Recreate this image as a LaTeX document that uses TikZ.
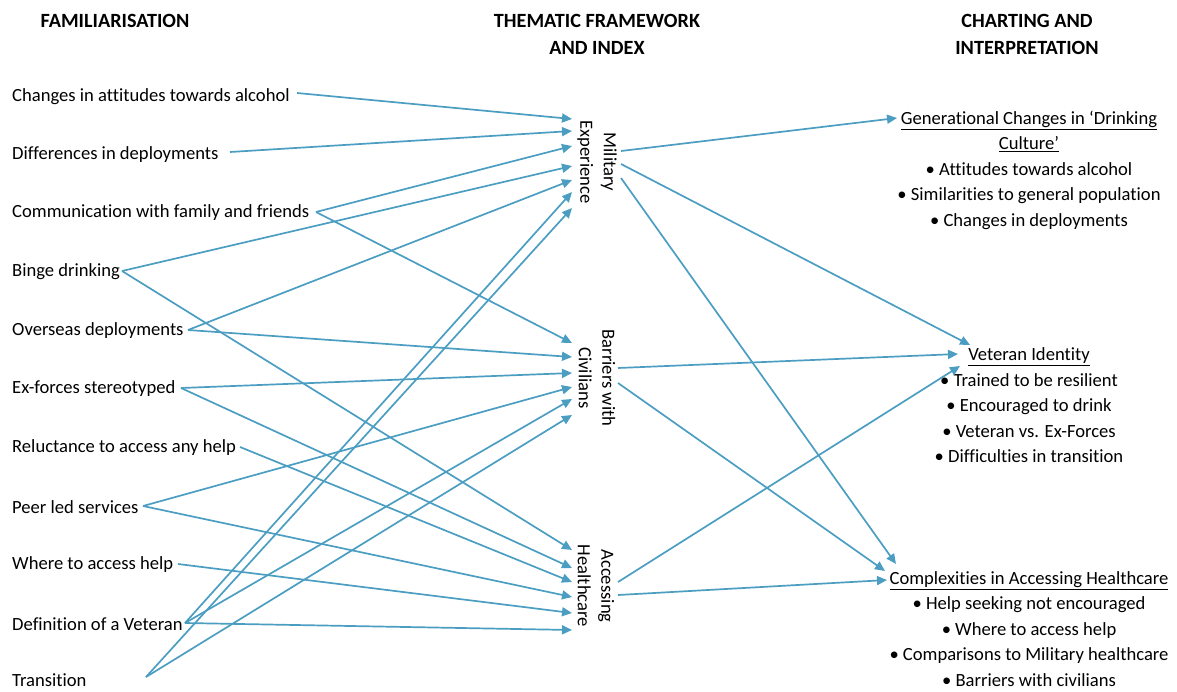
\documentclass[tikz,border=0pt]{standalone}
\usepackage{fontspec}
\setmainfont{Carlito}[Ligatures=NoCommon]
\usetikzlibrary{arrows.meta}
\definecolor{lineblue}{RGB}{75,158,194}
\begin{document}
\begin{tikzpicture}[x=1pt,y=-1pt,
  lab/.style={anchor=west,inner sep=0pt,font=\fontsize{18.6}{22}\selectfont},
  head/.style={align=center,inner sep=0pt,font=\fontsize{20.2}{27}\selectfont\bfseries},
  theme/.style={rotate=-90,align=center,inner sep=0pt,font=\fontsize{18.6}{23.5}\selectfont},
  res/.style={align=center,inner sep=0pt,font=\fontsize{18.6}{25.5}\selectfont},
  conn/.style={draw=lineblue,line width=1.7pt,-{Triangle[length=10pt,width=9pt]}}]
\useasboundingbox (0,0) rectangle (1177,691);

% headers
\node[head] (h1) at (115,20.5) {FAMILIARISATION};
\node[head] (h2) at (597,34) {THEMATIC FRAMEWORK\\AND INDEX};
\node[head] (h3) at (1027,34) {CHARTING AND\\INTERPRETATION};

% left column
\node[lab] (att) at (12,97) {Changes in attitudes towards alcohol};
\node[lab] (dif) at (12,155) {Differences in deployments};
\node[lab] (com) at (12,213) {Communication with family and friends};
\node[lab] (bin) at (12,272) {Binge drinking};
\node[lab] (ove) at (12,331) {Overseas deployments};
\node[lab] (exf) at (12,389) {Ex-forces stereotyped};
\node[lab] (rel) at (12,448) {Reluctance to access any help};
\node[lab] (pee) at (12,507) {Peer led services};
\node[lab] (whe) at (12,565) {Where to access help};
\node[lab] (dfv) at (12,624) {Definition of a Veteran};
\node[lab] (tra) at (12,680.5) {Transition};

% middle column
\node[theme] (mil) at (597,162) {Military\\Experience};
\node[theme] (bar) at (597,378) {Barriers with\\Civilians};
\node[theme] (acc) at (596,586) {Accessing\\Healthcare};

% right column
\node[res] (gen) at (1029,170) {\underline{Generational Changes in ‘Drinking}\\\underline{Culture’}\\\textbullet\ Attitudes towards alcohol\\\textbullet\ Similarities to general population\\\textbullet\ Changes in deployments};
\node[res] (vet) at (1029,405.5) {\underline{Veteran Identity}\\\textbullet\ Trained to be resilient\\\textbullet\ Encouraged to drink\\\textbullet\ Veteran vs. Ex-Forces\\\textbullet\ Difficulties in transition};
\node[res] (cpx) at (1029,629) {\underline{Complexities in Accessing Healthcare}\\\textbullet\ Help seeking not encouraged\\\textbullet\ Where to access help\\\textbullet\ Comparisons to Military healthcare\\\textbullet\ Barriers with civilians};

% connector end points
\coordinate (att-o) at (297,93);
\coordinate (dif-o) at (230,152);
\coordinate (com-o) at (316,212);
\coordinate (bin-o) at (122,271);
\coordinate (ove-o) at (188,330);
\coordinate (exf-o) at (181,388);
\coordinate (rel-o) at (240,447);
\coordinate (pee-o) at (143,506);
\coordinate (whe-o) at (178,564);
\coordinate (dfv-o) at (185,623);
\coordinate (tra-o) at (146,677);

\coordinate (mil-i1) at (572,119);
\coordinate (mil-i2) at (572,131);
\coordinate (mil-i3) at (572,146);
\coordinate (mil-i4) at (572,166);
\coordinate (mil-i5) at (572,180);
\coordinate (mil-i6) at (572,192);
\coordinate (mil-i7) at (572,208);

\coordinate (bar-i1) at (572,343);
\coordinate (bar-i2) at (572,357);
\coordinate (bar-i3) at (572,373);
\coordinate (bar-i4) at (572,387);
\coordinate (bar-i5) at (572,399);
\coordinate (bar-i6) at (572,415);

\coordinate (acc-i1) at (572,550);
\coordinate (acc-i2) at (572,568);
\coordinate (acc-i3) at (572,582);
\coordinate (acc-i4) at (572,597);
\coordinate (acc-i5) at (572,613);
\coordinate (acc-i6) at (572,630);

\coordinate (mil-o1) at (621,151);
\coordinate (mil-o2) at (621,164);
\coordinate (mil-o3) at (621,178);
\coordinate (bar-o1) at (618,368);
\coordinate (bar-o2) at (618,383);
\coordinate (acc-o1) at (618,582);
\coordinate (acc-o2) at (618,595);

\coordinate (gen-i) at (897,118);
\coordinate (vet-i1) at (970,345);
\coordinate (vet-i2) at (958,354);
\coordinate (vet-i3) at (960,366);
\coordinate (cpx-i1) at (896,564);
\coordinate (cpx-i2) at (885,571);
\coordinate (cpx-i3) at (887,580);

% connectors to Military Experience
\draw[conn] (att-o) -- (mil-i1);
\draw[conn] (dif-o) -- (mil-i2);
\draw[conn] (com-o) -- (mil-i3);
\draw[conn] (bin-o) -- (mil-i4);
\draw[conn] (ove-o) -- (mil-i5);
\draw[conn] (dfv-o) -- (mil-i6);
\draw[conn] (tra-o) -- (mil-i7);

% connectors to Barriers with Civilians
\draw[conn] (com-o) -- (bar-i1);
\draw[conn] (ove-o) -- (bar-i2);
\draw[conn] (exf-o) -- (bar-i3);
\draw[conn] (pee-o) -- (bar-i4);
\draw[conn] (dfv-o) -- (bar-i5);
\draw[conn] (tra-o) -- (bar-i6);

% connectors to Accessing Healthcare
\draw[conn] (bin-o) -- (acc-i1);
\draw[conn] (exf-o) -- (acc-i2);
\draw[conn] (rel-o) -- (acc-i3);
\draw[conn] (pee-o) -- (acc-i4);
\draw[conn] (whe-o) -- (acc-i5);
\draw[conn] (dfv-o) -- (acc-i6);

% connectors to the right column
\draw[conn] (mil-o1) -- (gen-i);
\draw[conn] (mil-o2) -- (vet-i1);
\draw[conn] (mil-o3) -- (cpx-i1);
\draw[conn] (bar-o1) -- (vet-i2);
\draw[conn] (bar-o2) -- (cpx-i2);
\draw[conn] (acc-o1) -- (vet-i3);
\draw[conn] (acc-o2) -- (cpx-i3);
\end{tikzpicture}
\end{document}
